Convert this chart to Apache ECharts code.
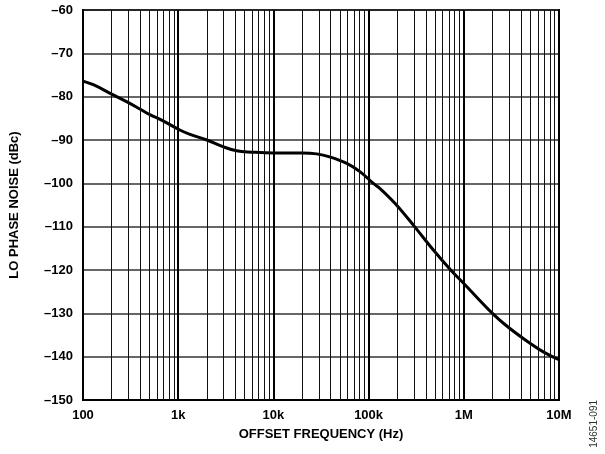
<!DOCTYPE html>
<html>
<head>
<meta charset="utf-8">
<script src="https://cdn.jsdelivr.net/npm/echarts@6/dist/echarts.min.js"></script>
<style>
  html, body { margin: 0; padding: 0; background: #fff; }
  #chart { width: 605px; height: 454px; }
</style>
</head>
<body>
<div id="chart"></div>
<script>
// offset frequency (Hz) and LO phase noise (dBc)
const freqHz = [100, 130, 200, 290, 400, 510, 670, 1040, 1330, 2000, 3000, 4100, 5900,
                10000, 20000, 28500, 39000, 59000, 81000, 112000, 132000, 189000, 307000,
                479000, 728000, 1000000, 2000000, 3050000, 4960000, 6840000, 10000000];
const noiseDbc = [-76.4, -77.3, -79.4, -81.2, -82.9, -84.2, -85.4, -87.7, -88.7, -90, -91.6, -92.5, -92.8,
                  -93.0, -93.0, -93.2, -93.9, -95.4, -97.3, -100, -101.2, -104.6, -110.1,
                  -115.4, -120, -123.1, -130, -133.5, -136.9, -138.9, -140.7];

const xTickLabels = { 100: '100', 1000: '1k', 10000: '10k', 100000: '100k', 1000000: '1M', 10000000: '10M' };
const minorMultipliers = [2, 3, 4, 5, 6, 7, 8, 9];
const decadeStarts = [100, 1000, 10000, 100000, 1000000];

const minorLines = [];
decadeStarts.forEach(d => {
    minorMultipliers.forEach(m => minorLines.push({ xAxis: d * m }));
});

const chart = echarts.init(document.getElementById('chart'));
const labelFont = { fontFamily: 'Liberation Sans, Arial, sans-serif', fontWeight: 'bold', fontSize: 13, color: '#000' };

chart.setOption({
    animation: false,
    grid: {
        left: 83, top: 10, right: 46, bottom: 54,
        show: true, borderColor: '#000', borderWidth: 2
    },
    xAxis: {
        type: 'log',
        logBase: 10,
        min: 100,
        max: 10000000,
        name: 'OFFSET FREQUENCY (Hz)',
        nameLocation: 'middle',
        nameGap: 28,
        nameTextStyle: Object.assign({}, labelFont),
        axisLine: { lineStyle: { color: '#000', width: 2 } },
        axisTick: { show: false },
        axisLabel: Object.assign({}, labelFont, {
            margin: 9,
            formatter: v => xTickLabels[Math.round(v)] || ''
        }),
        splitLine: { show: true, lineStyle: { color: '#000', width: 2 } }
    },
    yAxis: {
        type: 'value',
        min: -150,
        max: -60,
        interval: 10,
        name: 'LO PHASE NOISE (dBc)',
        nameLocation: 'middle',
        nameGap: 62,
        nameTextStyle: Object.assign({}, labelFont),
        axisLine: { show: true, lineStyle: { color: '#000', width: 2 } },
        axisTick: { show: false },
        axisLabel: Object.assign({}, labelFont, {
            margin: 10,
            formatter: v => String(v).replace('-', '\u2013')
        }),
        splitLine: { show: true, lineStyle: { color: '#333', width: 1.5 } }
    },
    graphic: [{
        type: 'text',
        left: 589,
        top: 400,
        rotation: Math.PI / 2,
        style: {
            text: '14651-091',
            font: '10px Liberation Sans, Arial, sans-serif',
            fill: '#333'
        }
    }],
    series: [
        {
            type: 'line',
            silent: true,
            data: [],
            markLine: {
                silent: true,
                symbol: 'none',
                label: { show: false },
                lineStyle: { color: '#111', width: 1, type: 'solid' },
                data: minorLines
            }
        },
        {
            type: 'line',
            data: freqHz.map((f, i) => [f, noiseDbc[i]]),
            smooth: 0.4,
            showSymbol: false,
            lineStyle: { color: '#000', width: 3 }
        }
    ]
});
</script>
</body>
</html>
